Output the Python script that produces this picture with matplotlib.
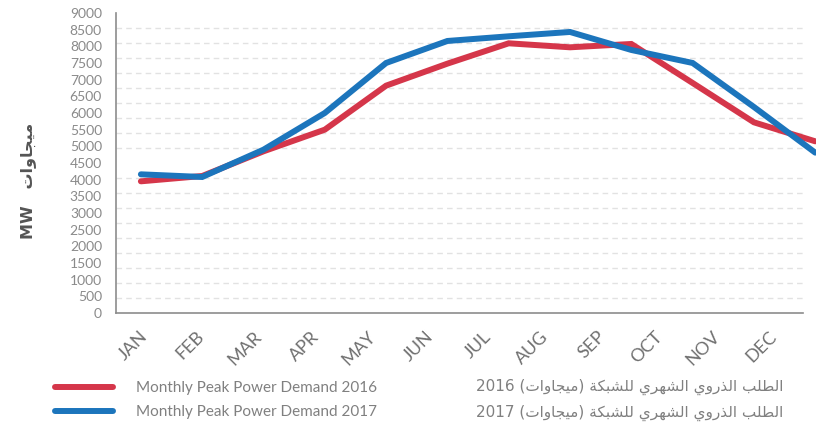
import re
import matplotlib
matplotlib.use("Agg")
import matplotlib.pyplot as plt
from matplotlib.ticker import MultipleLocator
import numpy as np

months = ["JAN", "FEB", "MAR", "APR", "MAY", "JUN", "JUL", "AUG", "SEP", "OCT", "NOV", "DEC"]
demand_2016 = [3950, 4110, 4850, 5500, 6820, 7480, 8090, 7970, 8070, 6900, 5720, 5150]
demand_2017 = [4160, 4080, 4900, 6000, 7500, 8160, 8300, 8430, 7890, 7500, 6180, 4810]
labels_en = ["Monthly Peak Power Demand 2016", "Monthly Peak Power Demand 2017"]
labels_ar = ["الطلب الذروي الشهري للشبكة (ميجاوات) 2016",
             "الطلب الذروي الشهري للشبكة (ميجاوات) 2017"]
unit_ar = "ميجاوات"
y_ticks = list(range(0, 9001, 500))

RED = "#d5364a"
BLUE = "#1c75bc"
GREY = "#808080"

# matplotlib has no arabic shaping: pick presentation forms by hand
# (isolated, final, initial, medial)
FORMS = {
    'ا': (0xFE8D, 0xFE8E, None, None),
    'ب': (0xFE8F, 0xFE90, 0xFE91, 0xFE92),
    'ة': (0xFE93, 0xFE94, None, None),
    'ت': (0xFE95, 0xFE96, 0xFE97, 0xFE98),
    'ج': (0xFE9D, 0xFE9E, 0xFE9F, 0xFEA0),
    'ذ': (0xFEAB, 0xFEAC, None, None),
    'ر': (0xFEAD, 0xFEAE, None, None),
    'ش': (0xFEB5, 0xFEB6, 0xFEB7, 0xFEB8),
    'ط': (0xFEC1, 0xFEC2, 0xFEC3, 0xFEC4),
    'ك': (0xFED9, 0xFEDA, 0xFEDB, 0xFEDC),
    'ل': (0xFEDD, 0xFEDE, 0xFEDF, 0xFEE0),
    'م': (0xFEE1, 0xFEE2, 0xFEE3, 0xFEE4),
    'ه': (0xFEE9, 0xFEEA, 0xFEEB, 0xFEEC),
    'و': (0xFEED, 0xFEEE, None, None),
    'ي': (0xFEF1, 0xFEF2, 0xFEF3, 0xFEF4),
}


def shape(text):
    out = []
    for i, ch in enumerate(text):
        if ch not in FORMS:
            out.append(ch)
            continue
        prev = text[i - 1] if i > 0 else ''
        nxt = text[i + 1] if i + 1 < len(text) else ''
        join_prev = prev in FORMS and FORMS[prev][2] is not None
        join_next = FORMS[ch][2] is not None and nxt in FORMS
        iso, fin, ini, med = FORMS[ch]
        if join_prev and join_next:
            c = med
        elif join_prev:
            c = fin
        elif join_next:
            c = ini
        else:
            c = iso
        out.append(chr(c))
    vis = ''.join(out)[::-1]
    vis = vis.translate(str.maketrans('()', ')('))
    vis = re.sub(r'\d+', lambda m: m.group(0)[::-1], vis)  # numbers stay LTR
    return vis


plt.rcParams['font.family'] = ['Lato', 'DejaVu Sans']

fig = plt.figure(figsize=(8.16, 4.25), dpi=100)
ax = fig.add_axes([0.142, 0.2635, 0.842, 0.706])

# the source draws the lines on a slightly wider step than the month labels
idx = np.arange(len(months))
line_x = -0.063 + idx * 1.0707

l16, = ax.plot(line_x, demand_2016, color=RED, lw=4.3, clip_on=False,
               solid_capstyle='round', solid_joinstyle='miter', zorder=3)
l17, = ax.plot(line_x, demand_2017, color=BLUE, lw=4.3, clip_on=False,
               solid_capstyle='round', solid_joinstyle='miter', zorder=4)

ax.set_xlim(-0.5, len(months) - 0.5)
ax.set_ylim(0, 9000)
ax.set_xticks(idx)
ax.set_xticklabels(months, rotation=45, ha='right', va='center',
                   rotation_mode='anchor', fontsize=13, color='#707070')
ax.set_yticks(y_ticks)
ax.set_yticklabels([str(v) for v in y_ticks], fontsize=10, color='#8a8a8a')
ax.tick_params(axis='both', length=0)
ax.tick_params(axis='x', pad=15)
ax.tick_params(axis='y', pad=10)

# gridlines in the source don't follow the labels: 20 steps to the top
ax.yaxis.set_minor_locator(MultipleLocator(450))
ax.tick_params(axis='y', which='minor', length=0)
ax.grid(which='minor', axis='y', color='#e2e2e2', lw=1, ls=(0, (4, 3)))
ax.grid(which='major', visible=False)

for s in ['top', 'right']:
    ax.spines[s].set_visible(False)
for s in ['left', 'bottom']:
    ax.spines[s].set_color('#8c8c8c')
    ax.spines[s].set_linewidth(1.2)

fig.text(0.034, 0.575, "MW   " + shape(unit_ar), rotation=90, ha='center', va='center',
         fontsize=11.5, fontweight='bold', color='#555555', family='DejaVu Sans')

leg = fig.legend([l16, l17], labels_en, loc='center left', bbox_to_anchor=(0.0674, 0.059),
                 frameon=False, fontsize=11, handlelength=3.8, handletextpad=1.5,
                 labelspacing=0.65, borderpad=0, borderaxespad=0)
for t in leg.get_texts():
    t.set_color(GREY)

for lab, yy in zip(labels_ar, [0.089, 0.028]):
    fig.text(0.96, yy, shape(lab), ha='right', va='center', fontsize=11,
             color=GREY, family='DejaVu Sans')

fig.savefig("out.png", dpi=100)
